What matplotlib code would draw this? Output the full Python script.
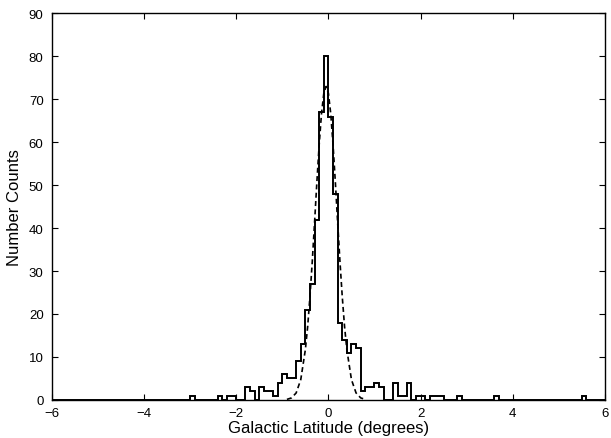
import numpy as np
import matplotlib
matplotlib.use("Agg")
import matplotlib.pyplot as plt

plt.rcParams['font.family'] = ['Liberation Sans', 'DejaVu Sans']

# histogram counts, keyed by left bin edge in tenths of a degree (bin width 0.1 deg)
bin_left_tenths = [-30, -24, -22, -21, -18, -17, -15, -14, -13, -12, -11, -10, -9, -8,
                   -7, -6, -5, -4, -3, -2, -1, 0, 1, 2, 3, 4, 5, 6, 7, 8, 9, 10, 11,
                   14, 15, 16, 17, 19, 20, 22, 23, 24, 28, 36, 55]
bin_counts = [1, 1, 1, 1, 3, 2, 3, 2, 2, 1, 4, 6, 5, 5,
              9, 13, 21, 27, 42, 67, 80, 66, 48, 18, 14, 11, 13, 12, 2, 3, 3, 4, 3,
              4, 1, 1, 4, 1, 1, 1, 1, 1, 1, 1, 1]

# dashed fitted curve
fit_x = [-0.90, -0.80, -0.70, -0.60, -0.50, -0.45, -0.40, -0.35, -0.30, -0.25, -0.20,
         -0.15, -0.10, -0.05, 0.00, 0.05, 0.10, 0.15, 0.20, 0.25, 0.30, 0.35, 0.40,
         0.50, 0.60, 0.70, 0.80]
fit_y = [0.1, 0.45, 1.6, 4.7, 11.7, 17.1, 24.1, 32.3, 41.4, 50.8, 59.5,
         66.7, 71.4, 73.0, 71.4, 66.7, 59.5, 50.8, 41.4, 32.3, 24.1, 17.1, 11.7,
         4.7, 1.6, 0.45, 0.1]

edges = np.round(np.arange(-60, 61) * 0.1, 2)
counts = np.zeros(len(edges) - 1)
for k, c in zip(bin_left_tenths, bin_counts):
    counts[k + 60] = c

fig = plt.figure(figsize=(6.11, 4.39), dpi=100)
ax = fig.add_axes([0.085, 0.087, 0.905, 0.880])

ax.stairs(counts, edges, color='black', linewidth=1.4)
ax.plot(fit_x, fit_y, color='black', linestyle=(0, (3, 2)), linewidth=1.2)

ax.set_xlim(-6, 6)
ax.set_ylim(0, 90)
ax.set_xticks(np.arange(-6, 7, 2))
ax.set_yticks(np.arange(0, 91, 10))
ax.tick_params(direction='in', top=True, right=True, length=4, width=0.8,
               labelsize=9.5)
ax.tick_params(axis='x', pad=5)
ax.tick_params(axis='y', pad=6)
for s in ax.spines.values():
    s.set_linewidth(1.0)

ax.set_xlabel('Galactic Latitude (degrees)', fontsize=12, labelpad=1)
ax.set_ylabel('Number Counts', fontsize=12, labelpad=5)

fig.savefig('out.png', dpi=100)
